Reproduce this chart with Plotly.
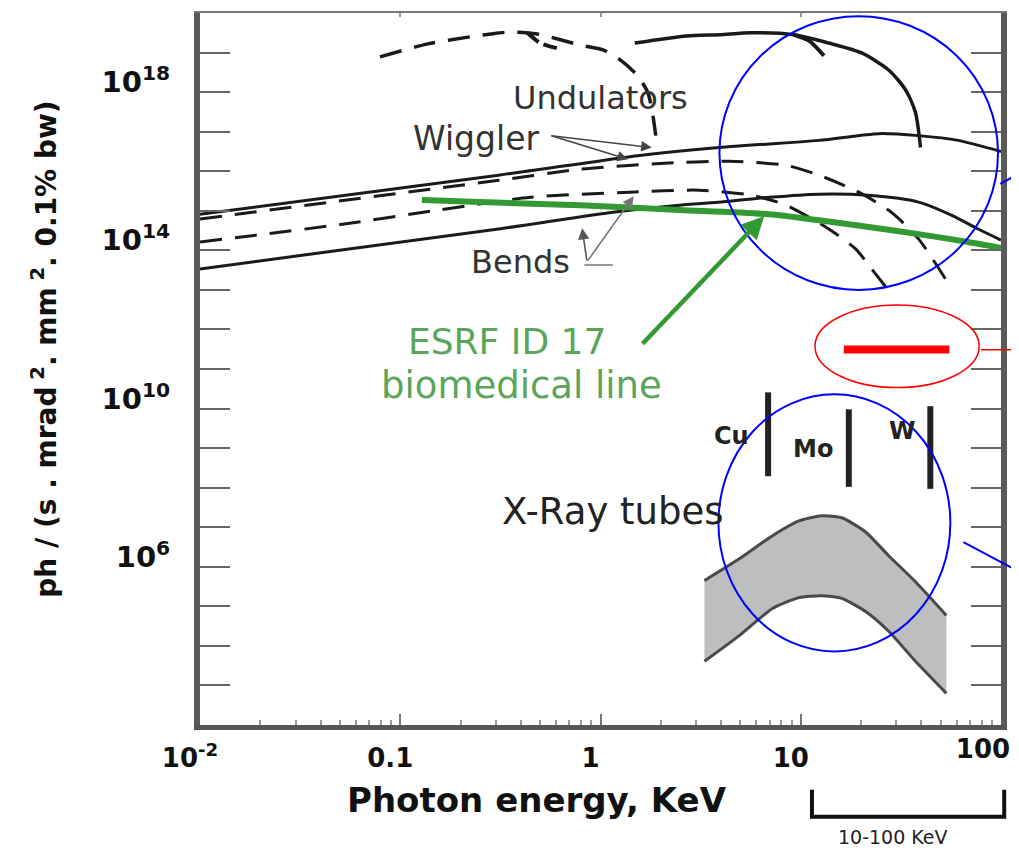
import plotly.graph_objects as go

# ---------------- data (log10 of photon energy [keV] and of brilliance) ----------------
und_solid_logE = [0.171, 0.430, 0.594, 0.753, 0.966, 1.140, 1.304, 1.439, 1.523, 1.573, 1.598]
und_solid_logB = [19.24, 19.42, 19.45, 19.50, 19.45, 19.24, 18.99, 18.56, 18.06, 17.48, 16.60]
und_solid_hook_logE = [0.966, 1.041, 1.116]
und_solid_hook_logB = [19.45, 19.30, 18.92]

und_dash_logE = [-1.101, -0.862, -0.648, -0.549, -0.450, -0.316, -0.102, 0.012, 0.097, 0.186, 0.236, 0.256, 0.276]
und_dash_logB = [18.89, 19.22, 19.40, 19.47, 19.52, 19.47, 19.19, 19.07, 18.82, 18.41, 17.99, 17.58, 16.90]
und_dash_hook_logE = [-0.365, -0.301, -0.201]
und_dash_hook_logB = [19.50, 19.24, 19.09]

wig_solid_logE = [-2.0, -0.509, 0.196, 0.594, 1.091, 1.389, 1.588, 1.786, 2.0]
wig_solid_logB = [14.91, 15.90, 16.40, 16.60, 16.78, 16.95, 16.90, 16.78, 16.50]

wig_dash_logE = [-2.0, -0.509, -0.102, 0.395, 0.643, 0.927, 1.091, 1.290, 1.453, 1.588, 1.722]
wig_dash_logB = [14.79, 15.77, 16.05, 16.22, 16.25, 16.15, 15.90, 15.47, 14.96, 14.29, 13.28]

bend_solid_logE = [-2.0, -0.509, 0.062, 0.395, 0.643, 0.842, 1.091, 1.339, 1.588, 1.752, 1.886, 2.0]
bend_solid_logB = [13.53, 14.54, 14.96, 15.14, 15.24, 15.34, 15.42, 15.39, 15.22, 14.89, 14.54, 14.26]

bend_dash_logE = [-2.0, -1.289, -0.807, -0.350, 0.147, 0.494, 0.758, 0.927, 1.140, 1.275, 1.354, 1.424]
bend_dash_logB = [14.21, 14.66, 15.02, 15.34, 15.47, 15.52, 15.39, 15.14, 14.54, 14.03, 13.53, 13.08]

esrf_logE = [-0.892, -0.599, -0.102, 0.395, 0.842, 1.339, 1.588, 1.836, 2.0]
esrf_logB = [15.27, 15.22, 15.14, 15.02, 14.91, 14.59, 14.41, 14.21, 14.06]

tube_logE = [0.519, 0.693, 0.857, 0.991, 1.106, 1.205, 1.324, 1.439, 1.573, 1.727]
tube_upper_logB = [5.65, 6.20, 6.78, 7.16, 7.29, 7.24, 6.88, 6.28, 5.62, 4.77]
tube_lower_logB = [3.61, 4.26, 4.94, 5.22, 5.27, 5.20, 4.87, 4.37, 3.61, 2.80]

anode_names = ["Cu", "Mo", "W"]
anode_logE = [0.837, 1.240, 1.647]
anode_top_logB = [10.41, 9.98, 10.06]
anode_bot_logB = [8.29, 8.02, 7.97]

target_logE = [1.215, 1.742]
target_logB = [11.49, 11.49]

x_tick_vals = [0.01, 0.1, 1, 10]
x_tick_text = ["10<sup>-2</sup>", "0.1", "1", "10"]
x_last_val = 100
x_last_text = "100"
y_tick_exps = list(range(3, 20))
y_label_exps = [18, 14, 10, 6]

# ---------------- helpers ----------------
def p10(v):
    return [10 ** a for a in v]

BLACK = "#1a1a1a"
FONT = "DejaVu Sans"

fig = go.Figure()

# X-ray tube band
fig.add_trace(go.Scatter(
    x=p10(tube_logE + tube_logE[::-1]),
    y=p10(tube_upper_logB + tube_lower_logB[::-1]),
    fill="toself", fillcolor="#bdbec0", line=dict(width=0), mode="lines",
    hoverinfo="skip"))
for yy in (tube_upper_logB, tube_lower_logB):
    fig.add_trace(go.Scatter(x=p10(tube_logE), y=p10(yy), mode="lines",
                             line=dict(color="#4a4a4a", width=3, shape="spline", smoothing=0.6)))

def curve(lx, ly, dash=None, width=3, color=BLACK, xaxis="x"):
    fig.add_trace(go.Scatter(
        x=p10(lx), y=p10(ly), mode="lines", xaxis=xaxis,
        line=dict(color=color, width=width, dash=dash, shape="spline", smoothing=0.7)))

DASH = "22px,13px"
curve(bend_solid_logE, bend_solid_logB)
curve(bend_dash_logE, bend_dash_logB, dash=DASH)
curve(wig_solid_logE, wig_solid_logB)
curve(wig_dash_logE, wig_dash_logB, dash=DASH)
curve(und_solid_logE, und_solid_logB, width=3.5)
curve(und_solid_hook_logE, und_solid_hook_logB, width=4)
curve(und_dash_logE, und_dash_logB, dash=DASH, width=3.5)
curve(und_dash_hook_logE, und_dash_hook_logB, dash="14px,6px", width=4)
curve(esrf_logE, esrf_logB, width=6, color="#339933")

# anode lines (Cu, Mo, W)
for le, t, b in zip(anode_logE, anode_top_logB, anode_bot_logB):
    fig.add_trace(go.Scatter(x=[10 ** le, 10 ** le], y=[10 ** t, 10 ** b], mode="lines",
                             xaxis="x2", line=dict(color="#222222", width=6)))

# red target bar
fig.add_trace(go.Scatter(x=p10(target_logE), y=p10(target_logB), mode="lines",
                         xaxis="x3", line=dict(color="#ff0000", width=8)))

# ---------------- annotations ----------------
ann = []
def txt(s, lx, ly, size, color="#333333", bold=False):
    ann.append(dict(text=s, x=lx, y=ly, xref="x", yref="y", showarrow=False,
                    xanchor="center", yanchor="middle",
                    font=dict(family=FONT, size=size, color=color,
                              weight="bold" if bold else "normal")))

txt("Undulators", -0.002, 17.86, 32)
txt("Wiggler", -0.624, 16.83, 33)
txt("Bends", -0.400, 13.71, 32)
txt("ESRF ID 17", -0.465, 11.69, 36, color="#5ba55b")
txt("biomedical line", -0.395, 10.58, 37, color="#5ba55b")
txt("X-Ray tubes", 0.062, 7.41, 37, color="#222222")
for name, lx, ly in zip(anode_names, [0.655, 1.063, 1.505], [9.30, 8.97, 9.43]):
    txt(name, lx, ly, 24, color="#222222", bold=True)

def arrow(lx, ly, ax, ay, color, width, head=2, size=1.0):
    ann.append(dict(text="", x=lx, y=ly, xref="x", yref="y", ax=ax, ay=ay,
                    showarrow=True, arrowhead=head, arrowsize=size, arrowwidth=width,
                    arrowcolor=color, standoff=0))

# green pointer
arrow(0.817, 14.86, -123, 129, "#339933", 4.5, head=2, size=1.0)
# wiggler pointers
arrow(0.256, 16.60, -102, -12, "#444444", 1.5, head=2, size=1.4)
arrow(0.137, 16.30, -78, -24, "#444444", 1.5, head=2, size=1.4)
# bends pointers
arrow(-0.092, 14.56, 5, 34, "#555555", 1.6, head=2, size=1.4)
arrow(0.166, 15.37, -47, 66, "#777777", 1.6, head=2, size=1.4)
arrow(0.062, 13.63, -30, 0, "#777777", 1.6, head=0)

def paper_text(s, x, y, size, bold=False, angle=0, color="#111111"):
    ann.append(dict(text=s, x=x, y=y, xref="paper", yref="paper", showarrow=False,
                    xanchor="center", yanchor="middle", textangle=angle,
                    font=dict(family=FONT, size=size, color=color,
                              weight="bold" if bold else "normal")))

paper_text("Photon energy, KeV", 0.421, -0.105, 34, bold=True)
paper_text("ph / (s . mrad<sup> 2</sup>. mm<sup> 2</sup>. 0.1% bw)", -0.1935, 0.527, 28,
           bold=True, angle=-90)
paper_text("10-100 KeV", 0.865, -0.158, 19, color="#222222")

# ---------------- shapes ----------------
shapes = [
    dict(type="circle", xref="x", yref="y", x0=10 ** 0.594, x1=10 ** 1.985,
         y0=10 ** 13.00, y1=10 ** 19.92, line=dict(color="#0000ff", width=2)),
    dict(type="circle", xref="x", yref="y", x0=10 ** 0.589, x1=10 ** 1.747,
         y0=10 ** 3.86, y1=10 ** 10.36, line=dict(color="#0000ff", width=2)),
    dict(type="circle", xref="x", yref="y", x0=10 ** 1.071, x1=10 ** 1.891,
         y0=10 ** 10.53, y1=10 ** 12.62, line=dict(color="#ff0000", width=1.5)),
    dict(type="line", xref="paper", yref="paper", x0=0.999, y0=0.760, x1=1.03, y1=0.779,
         line=dict(color="#0000ff", width=2)),
    dict(type="line", xref="paper", yref="paper", x0=0.953, y0=0.257, x1=1.03, y1=0.211,
         line=dict(color="#0000ff", width=2)),
    dict(type="line", xref="paper", yref="paper", x0=0.975, y0=0.527, x1=1.03, y1=0.527,
         line=dict(color="#ff0000", width=1.5)),
    dict(type="path", xref="paper", yref="paper",
         path="M 0.764,-0.091 L 0.764,-0.129 L 1.004,-0.129 L 1.004,-0.091",
         line=dict(color="#111111", width=4)),
]

minor_vals = [m * 10 ** d for d in range(-2, 2) for m in range(2, 10)]
tickfont_x = dict(family=FONT, size=26, color="#111111", weight="bold")

fig.update_layout(
    width=1011, height=844,
    margin=dict(l=192, r=18, t=5, b=127, autoexpand=False),
    plot_bgcolor="white", paper_bgcolor="white", showlegend=False,
    annotations=ann, shapes=shapes,
    xaxis=dict(type="log", range=[-2, 2], tickvals=x_tick_vals, ticktext=x_tick_text,
               ticks="inside", ticklen=11, tickwidth=2, tickcolor="#777777",
               showline=True, linewidth=5, linecolor="#555555", mirror=False,
               showgrid=False, zeroline=False, ticklabelshift=-10, ticklabelstandoff=6,
               tickfont=tickfont_x),
    xaxis2=dict(type="log", range=[-2, 2], overlaying="x", anchor="y", side="bottom",
                tickvals=minor_vals + [x_last_val],
                ticktext=[""] * len(minor_vals) + [x_last_text],
                ticks="inside", ticklen=5, tickwidth=1.5,
                tickcolor="#999999", showticklabels=True, showline=False,
                ticklabelshift=-18, ticklabelstandoff=6, tickfont=tickfont_x,
                showgrid=False, zeroline=False),
    xaxis3=dict(type="log", range=[-2, 2], overlaying="x", anchor="y", side="top",
                tickvals=x_tick_vals[1:4], ticks="inside", ticklen=4, tickwidth=1.5,
                tickcolor="#999999", showticklabels=False, showline=True, linewidth=2,
                linecolor="#777777", showgrid=False, zeroline=False),
    yaxis=dict(type="log", range=[2, 20],
               tickvals=[10 ** e for e in y_tick_exps],
               ticktext=[("10<sup>%d</sup>" % e) if e in y_label_exps else "" for e in y_tick_exps],
               ticks="inside", ticklen=30, tickwidth=2, tickcolor="#666666",
               showline=True, linewidth=6, linecolor="#5a5a5a", mirror="ticks",
               showgrid=False, zeroline=False, ticklabelstandoff=18, ticklabelshift=-10,
               tickfont=dict(family=FONT, size=29, color="#111111", weight="bold")),
)

fig.write_html("out.html")
